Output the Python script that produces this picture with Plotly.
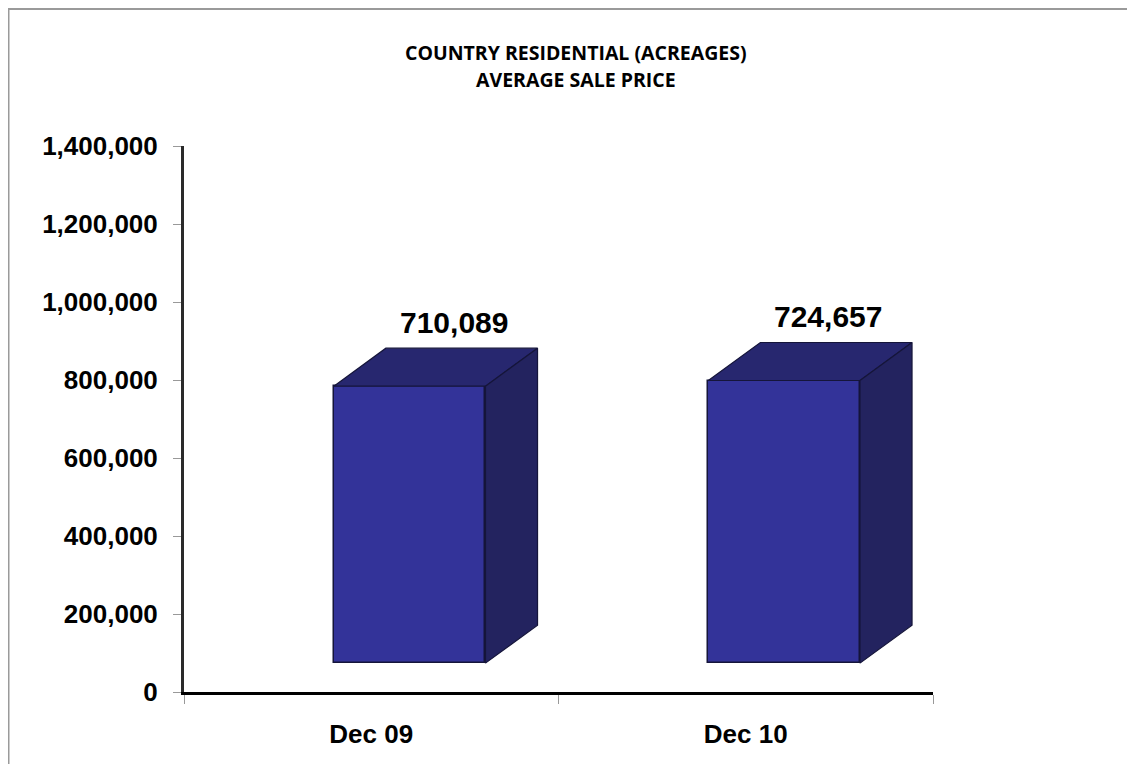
import plotly.graph_objects as go

categories = ["Dec 09", "Dec 10"]
values = [710089, 724657]
y_ticks = [0, 200000, 400000, 600000, 800000, 1000000, 1200000, 1400000]
title_lines = ["COUNTRY RESIDENTIAL (ACREAGES)", "AVERAGE SALE PRICE"]

# 3D-look geometry (data units)
floor = 74000
front_left = -0.10
front_width = 0.405
depth_dx = 0.139
depth_dy = 97500

FRONT = "#333399"
TOP = "#27276f"
SIDE = "#23235f"
EDGE = "#15153a"

# page has an 8px body margin on every side; keep the figure inside the window
OFF = 8
W, H = 1135 - 2 * OFF, 772 - 2 * OFF
ML, MT = 184 - OFF, 146 - OFF
PW, PH = 749, 546
MR, MB = W - ML - PW, H - MT - PH

def px_x(p):
    return (p - OFF - ML) / PW

def px_y(p):
    return 1 + (MT - (p - OFF)) / PH

xs = list(range(len(categories)))
fig = go.Figure()

fig.add_trace(go.Bar(
    x=xs, y=values, base=[floor] * len(values),
    width=front_width, offset=front_left,
    marker=dict(color=FRONT, line=dict(color=EDGE, width=1.5)),
    hoverinfo="skip", showlegend=False,
))

for i, v in zip(xs, values):
    left = i + front_left
    right = left + front_width
    top = floor + v
    # top face
    fig.add_trace(go.Scatter(
        x=[left, right, right + depth_dx, left + depth_dx, left],
        y=[top, top, top + depth_dy, top + depth_dy, top],
        mode="lines", fill="toself", fillcolor=TOP,
        line=dict(color=EDGE, width=1.2), hoverinfo="skip", showlegend=False,
    ))
    # side face
    fig.add_trace(go.Scatter(
        x=[right, right, right + depth_dx, right + depth_dx, right],
        y=[floor, top, top + depth_dy, floor + depth_dy, floor],
        mode="lines", fill="toself", fillcolor=SIDE,
        line=dict(color=EDGE, width=1.2), hoverinfo="skip", showlegend=False,
    ))
    fig.add_annotation(
        x=i + 0.22, y=top + depth_dy, text=f"{v:,}", showarrow=False,
        yanchor="middle", yshift=26,
        font=dict(family="Liberation Sans, Arial", size=30, color="black", weight="bold"),
    )

for line, py in zip(title_lines, [53, 79]):
    fig.add_annotation(
        x=px_x(576), y=px_y(py), xref="paper", yref="paper", text=line,
        showarrow=False, xanchor="center", yanchor="middle",
        font=dict(family="Open Sans", size=19.5, color="black", weight="bold"),
    )

# outer frame: only left and top edges are visible in the reference
bx0, bx1 = px_x(8.5), px_x(1140)
by0, by1 = px_y(800), px_y(9)
fig.add_shape(
    type="path", xref="paper", yref="paper",
    path=f"M {bx0},{by0} L {bx0},{by1} L {bx1},{by1}",
    line=dict(color="#9a9a9a", width=2), layer="below",
)

fig.update_layout(
    width=W, height=H,
    margin=dict(l=ML, r=MR, t=MT, b=MB, pad=0),
    paper_bgcolor="white", plot_bgcolor="white",
    bargap=0,
    xaxis=dict(
        range=[-0.5, len(categories) - 0.5],
        tickmode="array", tickvals=xs, ticktext=categories,
        ticks="", ticklabelstandoff=17,
        showgrid=False, zeroline=False,
        showline=True, linecolor="black", linewidth=3,
        tickfont=dict(family="Liberation Sans, Arial", size=26, color="black", weight="bold"),
        minor=dict(tickmode="array", tickvals=[-0.5, 0.5, 1.5], ticks="outside",
                   ticklen=9, tickcolor="#999999", tickwidth=1, showgrid=False),
        fixedrange=True,
    ),
    yaxis=dict(
        range=[0, 1400000],
        tickmode="array", tickvals=y_ticks, tickformat=",d",
        ticks="outside", ticklen=8, tickcolor="#999999", tickwidth=1,
        ticklabelstandoff=10,
        showgrid=False, zeroline=False,
        showline=True, linecolor="#2a2a2a", linewidth=3,
        tickfont=dict(family="Liberation Sans, Arial", size=26, color="black", weight="bold"),
        fixedrange=True,
    ),
)

fig.write_html("out.html")
